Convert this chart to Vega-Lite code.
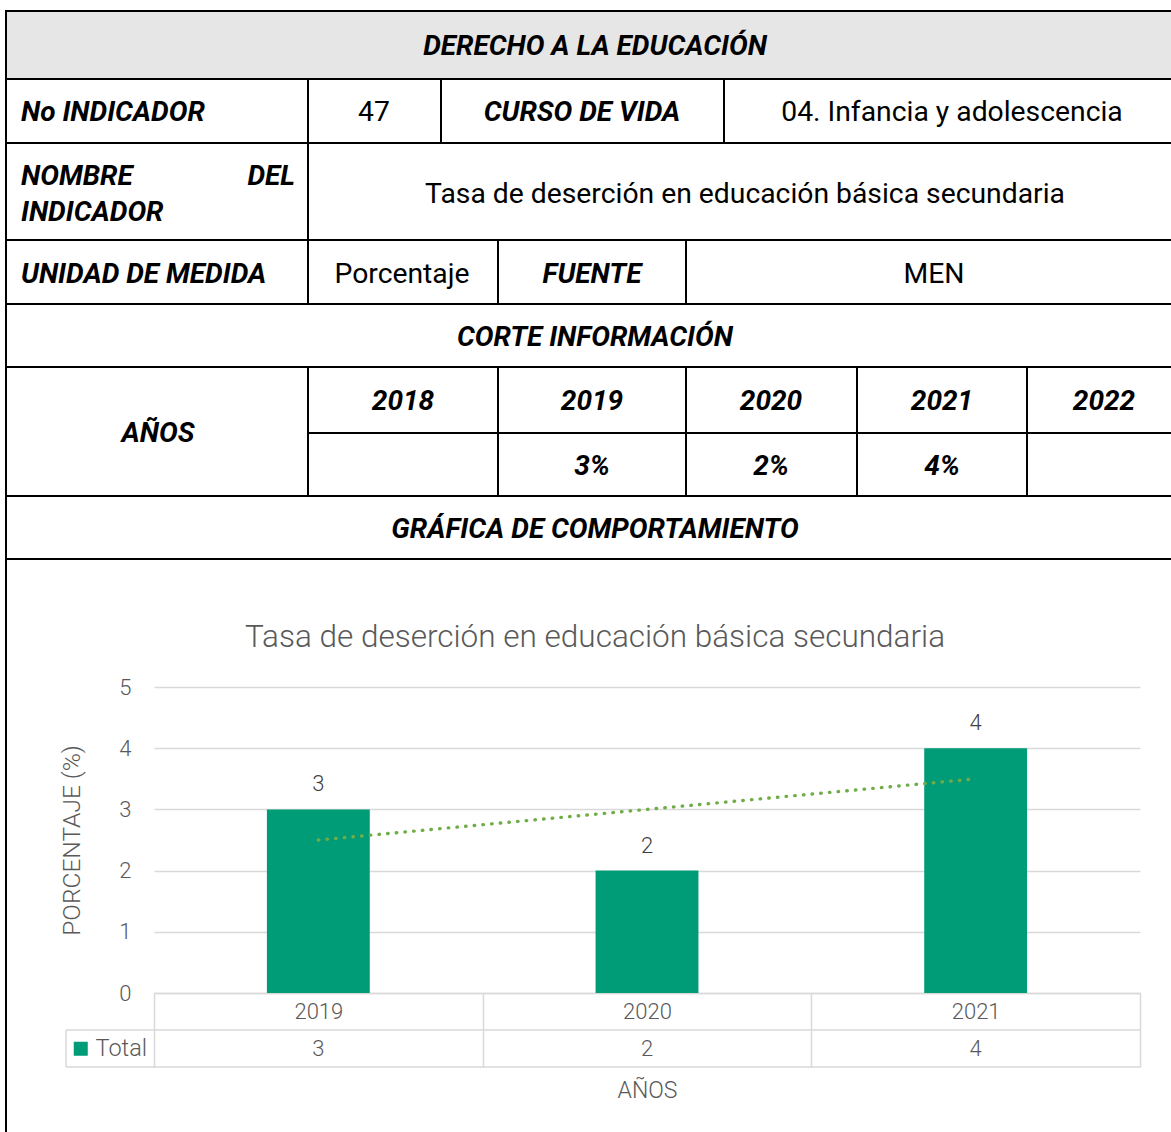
{
  "$schema": "https://vega.github.io/schema/vega-lite/v6.json",
  "width": 1171,
  "height": 1132,
  "padding": 0,
  "autosize": {"type": "none"},
  "background": "white",
  "config": {"font": "Roboto", "view": {"stroke": null}},
  "datasets": {
    "bars": [
      {"year": "2019", "value": 3, "serie": "Total"},
      {"year": "2020", "value": 2, "serie": "Total"},
      {"year": "2021", "value": 4, "serie": "Total"}
    ],
    "trend": [
      {"year": "2019", "trend": 2.5},
      {"year": "2021", "trend": 3.5}
    ],
    "header": [{"x": 6, "x2": 1171, "y": 11, "y2": 79}],
    "lines": [
      {"x": 6, "x2": 1171, "y": 11, "y2": 11},
      {"x": 6, "x2": 1171, "y": 79, "y2": 79},
      {"x": 6, "x2": 1171, "y": 143, "y2": 143},
      {"x": 6, "x2": 1171, "y": 240, "y2": 240},
      {"x": 6, "x2": 1171, "y": 304, "y2": 304},
      {"x": 6, "x2": 1171, "y": 367, "y2": 367},
      {"x": 308, "x2": 1171, "y": 433, "y2": 433},
      {"x": 6, "x2": 1171, "y": 496, "y2": 496},
      {"x": 6, "x2": 1171, "y": 559, "y2": 559},
      {"x": 6, "x2": 6, "y": 10, "y2": 1132},
      {"x": 308, "x2": 308, "y": 79, "y2": 304},
      {"x": 308, "x2": 308, "y": 367, "y2": 496},
      {"x": 441, "x2": 441, "y": 79, "y2": 143},
      {"x": 724, "x2": 724, "y": 79, "y2": 143},
      {"x": 498, "x2": 498, "y": 240, "y2": 304},
      {"x": 498, "x2": 498, "y": 367, "y2": 496},
      {"x": 686, "x2": 686, "y": 240, "y2": 304},
      {"x": 686, "x2": 686, "y": 367, "y2": 496},
      {"x": 857, "x2": 857, "y": 367, "y2": 496},
      {"x": 1027, "x2": 1027, "y": 367, "y2": 496}
    ],
    "chartgrid": [
      {"x": 66, "x2": 1140, "y": 1030, "y2": 1030},
      {"x": 66, "x2": 1140, "y": 1067, "y2": 1067},
      {"x": 66, "x2": 66, "y": 1030, "y2": 1067}
    ],
    "texts": [
      {"t": "DERECHO A LA EDUCACIÓN", "x": 595, "y": 45, "k": "lab_c"},
      {"t": "No INDICADOR", "x": 21, "y": 111, "k": "lab_l"},
      {"t": "47", "x": 374, "y": 111, "k": "val"},
      {"t": "CURSO DE VIDA", "x": 582, "y": 111, "k": "lab_c"},
      {"t": "04. Infancia y adolescencia", "x": 952, "y": 111, "k": "val"},
      {"t": "NOMBRE", "x": 21, "y": 175, "k": "lab_l"},
      {"t": "DEL", "x": 295, "y": 175, "k": "lab_r"},
      {"t": "INDICADOR", "x": 21, "y": 211, "k": "lab_l"},
      {"t": "Tasa de deserción en educación básica secundaria", "x": 745, "y": 193, "k": "val"},
      {"t": "UNIDAD DE MEDIDA", "x": 21, "y": 273, "k": "lab_l"},
      {"t": "Porcentaje", "x": 402, "y": 273, "k": "val"},
      {"t": "FUENTE", "x": 592, "y": 273, "k": "lab_c"},
      {"t": "MEN", "x": 934, "y": 273, "k": "val"},
      {"t": "CORTE INFORMACIÓN", "x": 595, "y": 336, "k": "lab_c"},
      {"t": "AÑOS", "x": 158, "y": 432, "k": "lab_c"},
      {"t": "2018", "x": 403, "y": 400, "k": "lab_c"},
      {"t": "2019", "x": 592, "y": 400, "k": "lab_c"},
      {"t": "2020", "x": 771, "y": 400, "k": "lab_c"},
      {"t": "2021", "x": 942, "y": 400, "k": "lab_c"},
      {"t": "2022", "x": 1104, "y": 400, "k": "lab_c"},
      {"t": "3%", "x": 592, "y": 465, "k": "lab_c"},
      {"t": "2%", "x": 771, "y": 465, "k": "lab_c"},
      {"t": "4%", "x": 942, "y": 465, "k": "lab_c"},
      {"t": "GRÁFICA DE COMPORTAMIENTO", "x": 595, "y": 528, "k": "lab_c"},
      {"t": "Tasa de deserción en educación básica secundaria", "x": 595, "y": 636, "k": "title"}
    ]
  },
  "layer": [
    {
      "encoding": {
        "x": {"field": "x", "type": "quantitative", "scale": {"domain": [0, 1171], "nice": false, "zero": false}, "axis": null},
        "y": {"field": "y", "type": "quantitative", "scale": {"domain": [0, 1132], "reverse": true, "nice": false, "zero": false}, "axis": null}
      },
      "layer": [
        {
          "data": {"name": "header"},
          "mark": {"type": "rect", "fill": "#e7e6e6"},
          "encoding": {"x2": {"field": "x2"}, "y2": {"field": "y2"}}
        },
        {
          "data": {"name": "lines"},
          "mark": {"type": "rule", "color": "#000000", "strokeWidth": 2},
          "encoding": {"x2": {"field": "x2"}, "y2": {"field": "y2"}}
        },
        {
          "data": {"name": "chartgrid"},
          "mark": {"type": "rule", "color": "#d9d9d9", "strokeWidth": 1.5},
          "encoding": {"x2": {"field": "x2"}, "y2": {"field": "y2"}}
        },
        {
          "data": {"name": "texts"},
          "transform": [{"filter": "datum.k == 'lab_c'"}],
          "mark": {"type": "text", "fontSize": 28, "fontWeight": "bold", "fontStyle": "italic", "align": "center", "baseline": "middle", "dy": 2, "color": "#000000"},
          "encoding": {"text": {"field": "t"}}
        },
        {
          "data": {"name": "texts"},
          "transform": [{"filter": "datum.k == 'lab_l'"}],
          "mark": {"type": "text", "fontSize": 28, "fontWeight": "bold", "fontStyle": "italic", "align": "left", "baseline": "middle", "dy": 2, "color": "#000000"},
          "encoding": {"text": {"field": "t"}}
        },
        {
          "data": {"name": "texts"},
          "transform": [{"filter": "datum.k == 'lab_r'"}],
          "mark": {"type": "text", "fontSize": 28, "fontWeight": "bold", "fontStyle": "italic", "align": "right", "baseline": "middle", "dy": 2, "color": "#000000"},
          "encoding": {"text": {"field": "t"}}
        },
        {
          "data": {"name": "texts"},
          "transform": [{"filter": "datum.k == 'val'"}],
          "mark": {"type": "text", "fontSize": 28.3, "fontWeight": "normal", "align": "center", "baseline": "middle", "dy": 2, "color": "#000000"},
          "encoding": {"text": {"field": "t"}}
        },
        {
          "data": {"name": "texts"},
          "transform": [{"filter": "datum.k == 'title'"}],
          "mark": {"type": "text", "fontSize": 31.5, "fontWeight": 300, "align": "center", "baseline": "middle", "dy": 2, "color": "#595959"},
          "encoding": {"text": {"field": "t"}}
        }
      ]
    },
    {
      "layer": [
        {
          "data": {"name": "bars"},
          "mark": {"type": "bar", "width": {"band": 0.313}},
          "encoding": {
            "x": {
              "field": "year", "type": "nominal",
              "scale": {"type": "band", "domain": ["2019", "2020", "2021"], "range": [154, 1140], "paddingInner": 0, "paddingOuter": 0},
              "axis": {
                "title": "AÑOS", "orient": "bottom", "offset": -139,
                "domainColor": "#d9d9d9", "domainWidth": 1.5,
                "ticks": true, "tickBand": "extent", "tickSize": 74, "tickColor": "#d9d9d9", "tickWidth": 1.5,
                "labelAngle": 0, "labelBaseline": "middle", "labelPadding": -56,
                "labelFontSize": 22, "labelColor": "#595959", "labelFontWeight": 300,
                "titleFontSize": 23, "titleFontWeight": 300, "titleColor": "#595959", "titlePadding": 12,
                "grid": false
              }
            },
            "y": {
              "field": "value", "type": "quantitative",
              "scale": {"domain": [0, 5], "range": [993, 687], "nice": false, "zero": true},
              "axis": {
                "title": "PORCENTAJE (%)", "orient": "left", "offset": -133,
                "values": [0, 1, 2, 3, 4, 5], "format": "d",
                "domain": false, "ticks": false,
                "grid": true, "gridColor": "#d9d9d9", "gridWidth": 1.5,
                "labelPadding": 2, "labelFontSize": 22, "labelColor": "#595959", "labelFontWeight": 300,
                "titleFontSize": 24.5, "titleFontWeight": 300, "titleColor": "#595959", "titlePadding": 34
              }
            },
            "color": {
              "field": "serie", "type": "nominal",
              "scale": {"range": ["#009b77"]},
              "legend": {
                "orient": "none", "legendX": 69, "legendY": 1037, "title": null,
                "symbolType": "square", "symbolSize": 196, "symbolStrokeWidth": 0,
                "labelFontSize": 23.5, "labelColor": "#595959", "labelFontWeight": 300,
                "labelOffset": 3, "padding": 0
              }
            }
          }
        },
        {
          "data": {"name": "bars"},
          "mark": {"type": "text", "dy": -25, "fontSize": 22, "fontWeight": 300, "color": "#404040", "baseline": "middle"},
          "encoding": {
            "x": {"field": "year", "type": "nominal"},
            "y": {"field": "value", "type": "quantitative"},
            "text": {"field": "value"}
          }
        },
        {
          "data": {"name": "bars"},
          "mark": {"type": "text", "dy": 56, "fontSize": 22, "fontWeight": 300, "color": "#595959", "baseline": "middle"},
          "encoding": {
            "x": {"field": "year", "type": "nominal"},
            "y": {"datum": 0, "type": "quantitative"},
            "text": {"field": "value"}
          }
        },
        {
          "data": {"name": "trend"},
          "mark": {"type": "line", "color": "#70ad47", "strokeWidth": 3.4, "strokeDash": [0.5, 8.2], "strokeCap": "round"},
          "encoding": {
            "x": {"field": "year", "type": "nominal"},
            "y": {"field": "trend", "type": "quantitative"}
          }
        }
      ]
    }
  ],
  "resolve": {"scale": {"x": "independent", "y": "independent"}}
}
